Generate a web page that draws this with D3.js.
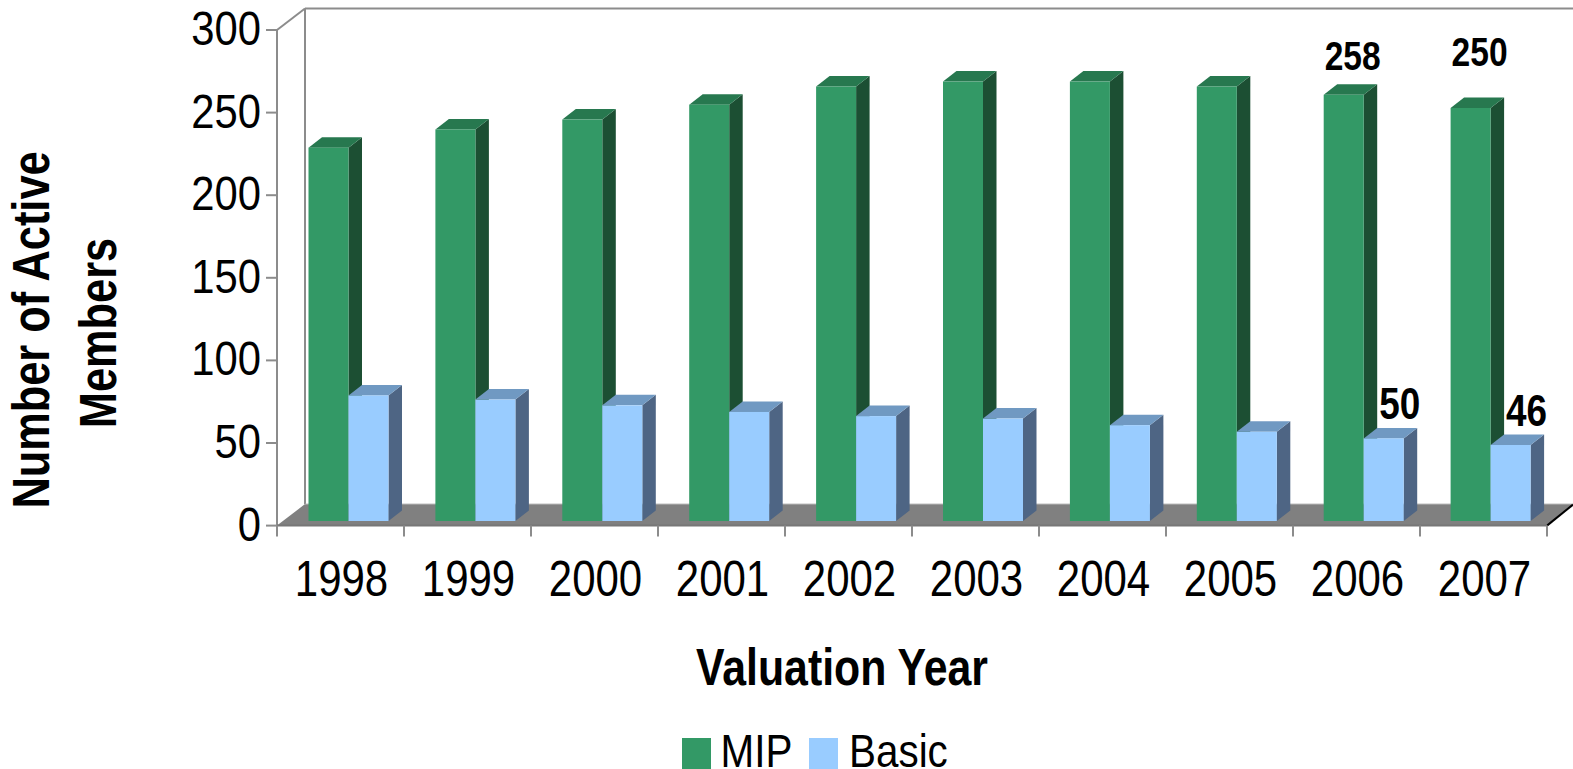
<!DOCTYPE html>
<html><head><meta charset="utf-8">
<script src="https://cdn.jsdelivr.net/npm/d3@7/dist/d3.min.js"></script>
<style>html,body{margin:0;padding:0;background:#fff;overflow:hidden}svg{display:block}text{font-family:"Liberation Sans",sans-serif;fill:#000}</style>
</head><body><svg id="c" width="1573" height="769"></svg>
<script>
const years=["1998","1999","2000","2001","2002","2003","2004","2005","2006","2007"];
const mip=[226,237,243,252,263,266,266,263,258,250];
const basic=[76,73.5,70,66,63.5,62,58,54,50,46];
const yTicks=[0,50,100,150,200,250,300];
const seriesNames=["MIP","Basic"];
const seriesColors=["#339966","#99ccff"];
const topColors=["#27784f","#7099c2"];
const sideColors=["#1c4f33","#4e6584"];
const labelYears=["2006","2007"];
const labelMip=["258","250"];
const labelBasic=["50","46"];

const svg=d3.select("#c");
const x=d3.scaleBand().domain(years).range([277,1547]);
const xBar=d3.scaleBand().domain(years).range([277,1546]);
const y=d3.scaleLinear().domain([0,300]).range([525.6,30]);
const wallDx=28,wallDy=-21.5,barLift=4.6,barDx=13.5,barDy=-10.5,barW=40,barOff=31.5;
const axisC="#8c8c8c";
const poly=(pts,fill)=>svg.append("polygon").attr("points",pts.map(p=>p.join(",")).join(" ")).attr("fill",fill);
const line=(a,b,c,w)=>svg.append("line").attr("x1",a[0]).attr("y1",a[1]).attr("x2",b[0]).attr("y2",b[1]).attr("stroke",c).attr("stroke-width",w);
const label=(tx,ty,s,size,sx,anchor,weight,rot)=>svg.append("text")
  .attr("transform",`translate(${tx},${ty})${rot?` rotate(${rot})`:""} scale(${sx},1)`)
  .attr("text-anchor",anchor).attr("font-size",size).attr("font-weight",weight).text(s);
const x0=x.range()[0],x1=x.range()[1],y0=y(0),yT=y(300);

// walls and floor
line([x0+wallDx,yT+wallDy],[1573,yT+wallDy],axisC,2);
line([x0+wallDx,yT+wallDy],[x0+wallDx,y0+wallDy],axisC,2);
line([x0,yT],[x0+wallDx,yT+wallDy],axisC,2);
poly([[x0,y0],[x0+wallDx,y0+wallDy],[1573,y0+wallDy],[1573,y0+wallDy+1],[x1,y0]],"#808080");
line([x0+wallDx,y0+wallDy],[1573,y0+wallDy],"#b0b0b0",1);
line([x1,y0],[1573,y0+wallDy+0.5],"#000",2);

// bars
function bar(px,v,i){
  const b=y(0)-barLift,t=y(v)-barLift,r=px+barW;
  poly([[r,b],[r+barDx,b+barDy],[r+barDx,t+barDy],[r,t]],sideColors[i]);
  poly([[px,t],[px+barDx,t+barDy],[r+barDx,t+barDy],[r,t]],topColors[i]);
  svg.append("rect").attr("x",px).attr("y",t).attr("width",barW).attr("height",b-t).attr("fill",seriesColors[i]);
}
years.forEach((d,k)=>{
  const px=xBar(d)+barOff;
  bar(px,mip[k],0);
  bar(px+barW,basic[k],1);
});

// axes
line([x0,yT],[x0,y0],axisC,2);
line([x0,y0],[x1,y0],"#777",2);
yTicks.forEach(v=>{
  line([x0-11,y(v)],[x0,y(v)],axisC,2);
  label(261,y(v)+15,v,48,0.87,"end",400);
});
years.concat(["end"]).forEach((d,k)=>{
  const px=x0+k*x.step();
  line([px,y0],[px,y0+11],axisC,2);
});
years.forEach(d=>label(x(d)+x.step()/2+1,596,d,50,0.84,"middle",400));

// data labels
const labelDx=[[29,29],[36,36]], labelDy=[[-25,-42],[-19.5,-19]];
labelYears.forEach((d,j)=>{
  const k=years.indexOf(d),px=xBar(d)+barOff;
  label(px+labelDx[0][j],y(mip[k])+labelDy[0][j]-barLift,labelMip[j],40,0.84,"middle",700);
  label(px+barW+labelDx[1][j],y(basic[k])+labelDy[1][j]-barLift,labelBasic[j],45,0.82,"middle",700);
});

// axis titles
label(49,330,"Number of Active",51,0.85,"middle",700,-90);
label(116,333,"Members",51,0.85,"middle",700,-90);
label(842,685,"Valuation Year",51,0.84,"middle",700);

// legend
const lgX=[682,809],txtX=[720.5,849];
seriesNames.forEach((s,i)=>{
  svg.append("rect").attr("x",lgX[i]).attr("y",738).attr("width",29).attr("height",31).attr("fill",seriesColors[i]);
  label(txtX[i],767,s,47,0.86,"start",400);
});
</script></body></html>
